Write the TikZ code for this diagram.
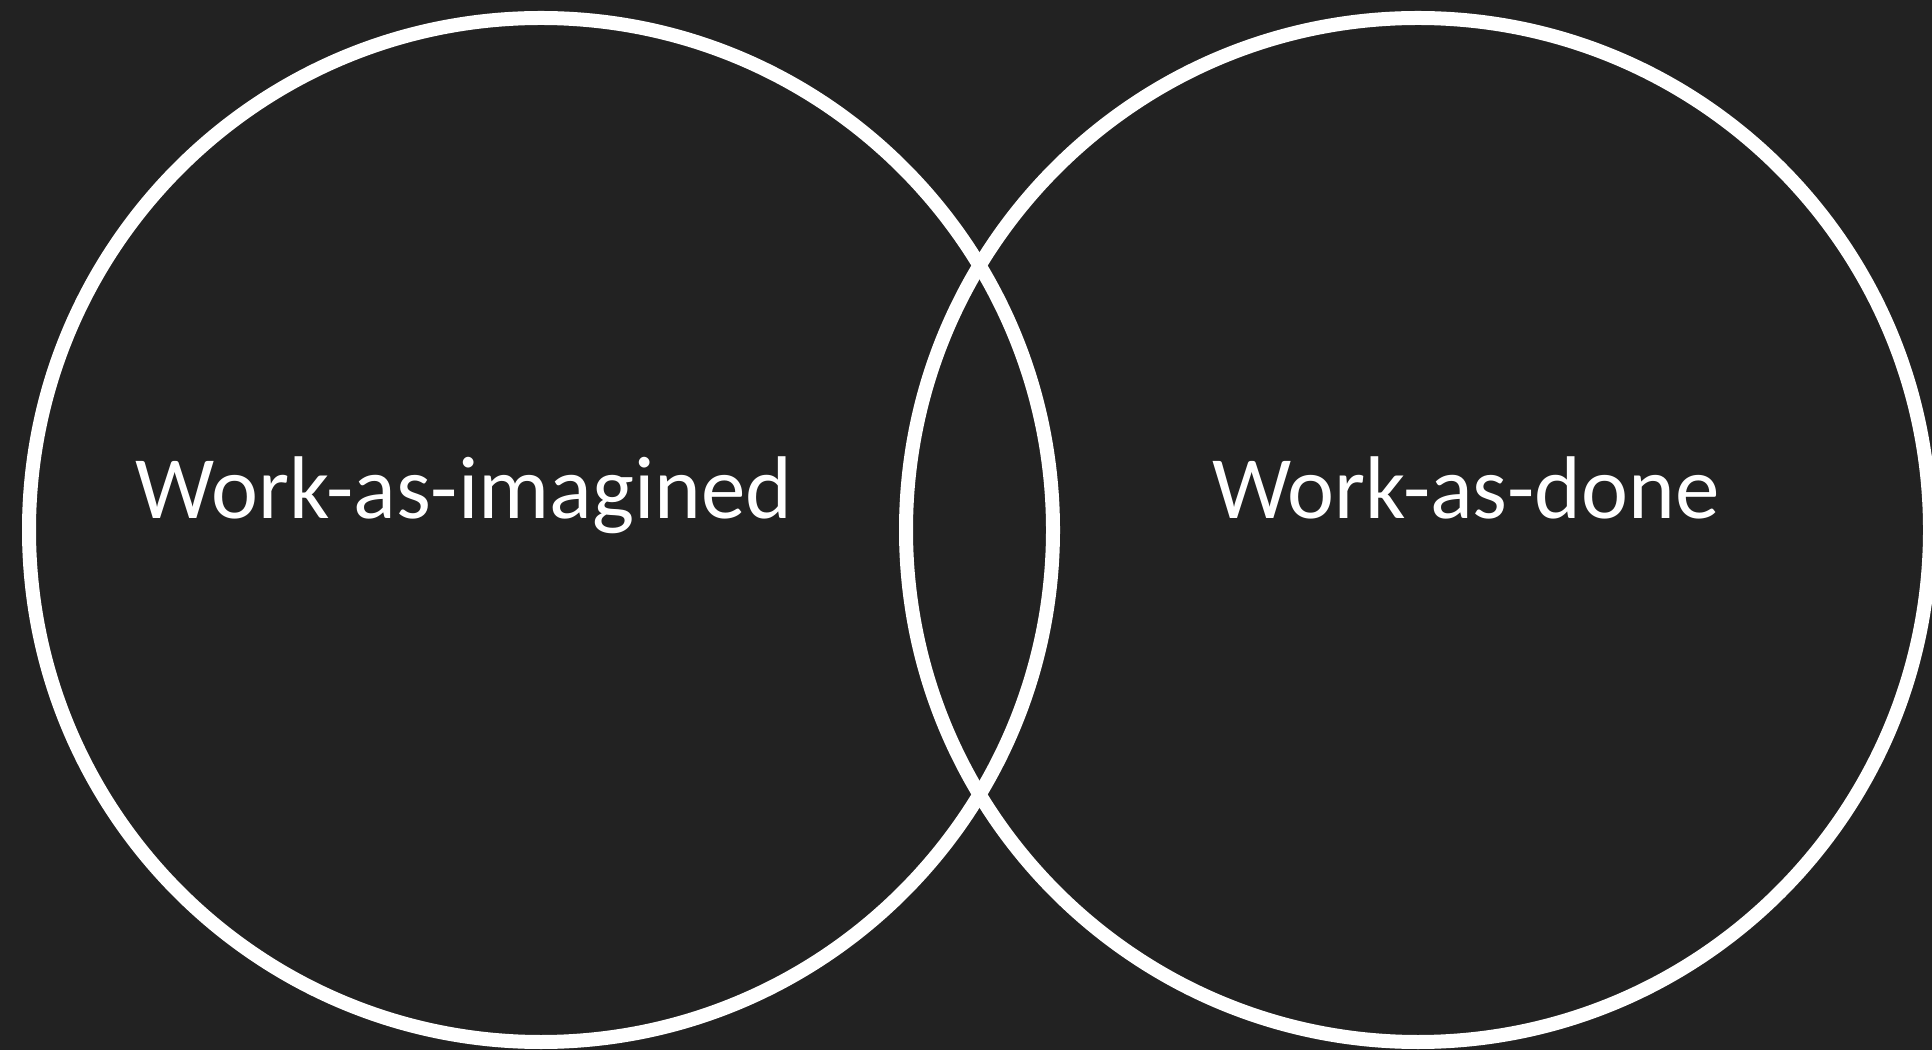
\documentclass[tikz,border=0pt]{standalone}
\usepackage{fontspec}
\setmainfont{Carlito}
\definecolor{bgdark}{HTML}{222222}

\begin{document}
\begin{tikzpicture}[x=1pt,y=1pt,
  ring/.style={draw=white,line width=14pt},
  wtext/.style={text=white,anchor=base,inner sep=0pt,font=\fontsize{89}{100}\selectfont}]
  \useasboundingbox (0,0) rectangle (1932,1050);
  \fill[bgdark] (0,0) rectangle (1932,1050);
  \coordinate (imaginedC) at (541,520);
  \coordinate (doneC) at (1418,520);
  \draw[ring] (imaginedC) circle (512pt);
  \draw[ring] (doneC) circle (512pt);
  \node[wtext] (imagined) at (464,531) {Work-as-imagined};
  \node[wtext] (done) at (1466,531) {Work-as-done};
\end{tikzpicture}
\end{document}
